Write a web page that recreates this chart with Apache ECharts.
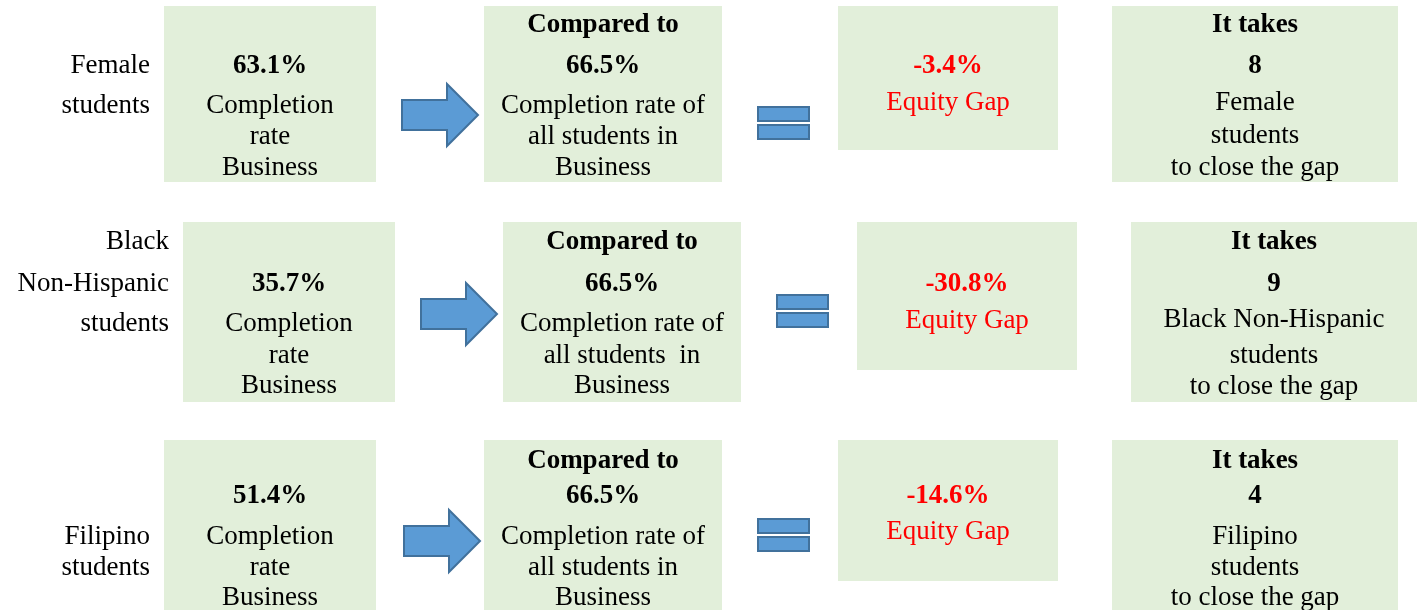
<!DOCTYPE html>
<html>
<head>
<meta charset="utf-8">
<script src="https://cdn.jsdelivr.net/npm/echarts@6/dist/echarts.min.js"></script>
<style>
	html, body { margin: 0; padding: 0; background: #fff; }
	#main { width: 1420px; height: 610px; }
</style>
</head>
<body>
<div id="main"></div>
<script>
// values
const groupLabels = [['Female', 'students'], ['Black', 'Non-Hispanic', 'students'], ['Filipino', 'students']];
const groupNames = ['Female', 'Black Non-Hispanic', 'Filipino'];
const groupRates = ['63.1%', '35.7%', '51.4%'];
const allRate = '66.5%';
const equityGaps = ['-3.4%', '-30.8%', '-14.6%'];
const studentsNeeded = ['8', '9', '4'];
const programName = 'Business';

// layout of each row (pixel centres of the text lines)
const rows = [
	{ dx: 0, top: 6, bot: 182, gapBot: 150, label: [64, 104], b1: [64, 104, 135, 166], b2: [23, 64, 104, 135, 166], b3: [64, 101], b4: [23, 64, 101, 134, 166], arrowX: 402, arrowY: 115, eqY: 123 },
	{ dx: 19, top: 222, bot: 402, gapBot: 370, label: [240, 282, 322], b1: [282, 322, 354, 384], b2: [240, 282, 322, 354, 384], b3: [282, 319], b4: [240, 282, 318, 354, 385], arrowX: 421, arrowY: 314, eqY: 311 },
	{ dx: 0, top: 440, bot: 615, gapBot: 581, label: [535, 566], b1: [494, 535, 566, 596], b2: [459, 494, 535, 566, 596], b3: [494, 530], b4: [459, 494, 535, 566, 596], arrowX: 404, arrowY: 541, eqY: 535 }
];

const FONT = "'Liberation Serif', 'Times New Roman', serif";
const boxFill = '#E2EFDA';
const blue = '#5B9BD5';
const blueEdge = '#41719C';
const yNudge = 2; // middle-aligned glyphs sit a bit high

function txt(str, x, y, opts) {
	opts = opts || {};
	return {
		type: 'text',
		z: 10,
		style: {
			text: str,
			x: x,
			y: y + yNudge,
			align: opts.align || 'center',
			textAlign: opts.align || 'center',
			verticalAlign: 'middle',
			textVerticalAlign: 'middle',
			font: (opts.bold ? 'bold ' : '') + '27px ' + FONT,
			fill: opts.color || '#000'
		}
	};
}

function box(x0, x1, y0, y1) {
	return {
		type: 'rect',
		z: 1,
		shape: { x: x0, y: y0, width: x1 - x0, height: y1 - y0 },
		style: { fill: boxFill }
	};
}

let elements = [];
rows.forEach((r, i) => {
	let d = r.dx;
	// group label
	groupLabels[i].forEach((s, k) => {
		elements.push(txt(s, 150 + d, r.label[k], { align: 'right' }));
	});

	// box 1: group completion rate
	elements.push(box(164 + d, 376 + d, r.top, r.bot));
	let c1 = 270 + d;
	[[groupRates[i], true], ['Completion', false], ['rate', false], [programName, false]].forEach((l, k) => {
		elements.push(txt(l[0], c1, r.b1[k], { bold: l[1] }));
	});

	// arrow
	let ax = r.arrowX, ay = r.arrowY;
	elements.push({
		type: 'polygon',
		z: 5,
		shape: {
			points: [[ax, ay - 15], [ax + 45, ay - 15], [ax + 45, ay - 31], [ax + 76, ay], [ax + 45, ay + 31], [ax + 45, ay + 15], [ax, ay + 15]]
		},
		style: { fill: blue, stroke: blueEdge, lineWidth: 2 }
	});

	// box 2: all students rate
	elements.push(box(484 + d, 722 + d, r.top, r.bot));
	let c2 = 603 + d;
	[['Compared to', true], [allRate, true], ['Completion rate of', false], [i === 1 ? 'all students  in' : 'all students in', false], [programName, false]].forEach((l, k) => {
		elements.push(txt(l[0], c2, r.b2[k], { bold: l[1] }));
	});

	// equals sign
	[[-16, -2], [2, 16]].forEach((p) => {
		elements.push({
			type: 'rect',
			z: 5,
			shape: { x: 758 + d, y: r.eqY + p[0], width: 51, height: p[1] - p[0] },
			style: { fill: blue, stroke: blueEdge, lineWidth: 2 }
		});
	});

	// box 3: equity gap
	elements.push(box(838 + d, 1058 + d, r.top, r.gapBot));
	let c3 = 948 + d;
	elements.push(txt(equityGaps[i], c3, r.b3[0], { bold: true, color: '#FF0000' }));
	elements.push(txt('Equity Gap', c3, r.b3[1], { color: '#FF0000' }));

	// box 4: students needed
	elements.push(box(1112 + d, 1398 + d, r.top, r.bot));
	let c4 = 1255 + d;
	[['It takes', true], [studentsNeeded[i], true], [groupNames[i], false], ['students', false], ['to close the gap', false]].forEach((l, k) => {
		elements.push(txt(l[0], c4, r.b4[k], { bold: l[1] }));
	});
});

let myChart = echarts.init(document.getElementById('main'));
let option = {
	backgroundColor: '#fff',
	animation: false,
	graphic: { elements: elements }
};
myChart.setOption(option);
window.onresize = myChart.resize;
</script>
</body>
</html>
